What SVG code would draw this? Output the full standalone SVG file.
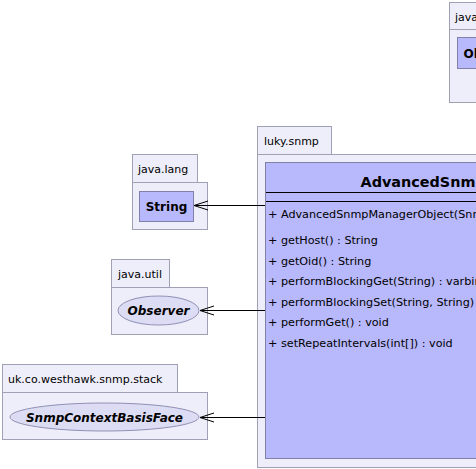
<svg xmlns="http://www.w3.org/2000/svg" width="476" height="469" viewBox="0 0 476 469">
<defs>
<marker id="open" markerWidth="16" markerHeight="12" refX="15" refY="6" orient="auto" markerUnits="userSpaceOnUse">
<path d="M1,1.5 L15,6 L1,10.5" fill="none" stroke="#000" stroke-width="1"/>
</marker>
</defs>
<style>
.pkg{fill:#eeeefa;stroke:#a0a0b4;stroke-width:1}
.cls{fill:#b8b8fc;stroke:#8080a8;stroke-width:1}
.ifc{fill:#dcdcf4;stroke:#9090b4;stroke-width:1}
.plab{font-family:"DejaVu Sans",sans-serif;font-size:11px;fill:#000}
.cname{font-family:"DejaVu Sans",sans-serif;font-size:12px;font-weight:bold;fill:#000}
.iname{font-family:"DejaVu Sans",sans-serif;font-size:12px;font-weight:bold;font-style:italic;fill:#000}
.big{font-family:"DejaVu Sans",sans-serif;font-size:14.4px;font-weight:bold;fill:#000}
.mem{font-family:"DejaVu Sans",sans-serif;font-size:11.2px;fill:#000}
.sep{stroke:#000;stroke-width:1}
.conn{stroke:#000;stroke-width:1;fill:none}
</style>
<g id="pkg-java-lang-top">
<rect class="pkg" x="449.5" y="2.5" width="40" height="27"/>
<rect class="pkg" x="449.5" y="29.5" width="60" height="73"/>
<text class="plab" x="455" y="21">java.lang</text>
<rect class="cls" x="457.5" y="37.5" width="50" height="31"/>
<text class="cname" x="463.5" y="58">Object</text>
</g>
<g id="pkg-java-lang">
<rect class="pkg" x="132.5" y="154.5" width="65" height="28"/>
<rect class="pkg" x="132.5" y="182.5" width="75" height="47"/>
<text class="plab" x="138" y="173">java.lang</text>
</g>
<g id="String">
<rect class="cls" x="139.5" y="191.5" width="54" height="30"/>
<text class="cname" x="166.5" y="210.5" text-anchor="middle">String</text>
</g>
<g id="pkg-java-util">
<rect class="pkg" x="111.5" y="259.5" width="58" height="28"/>
<rect class="pkg" x="111.5" y="287.5" width="96" height="47"/>
<text class="plab" x="118" y="278">java.util</text>
</g>
<g id="Observer">
<ellipse class="ifc" cx="158.5" cy="310.5" rx="40.5" ry="14.5"/>
<text class="iname" x="158.5" y="315" text-anchor="middle">Observer</text>
</g>
<g id="pkg-uk-co-westhawk-snmp-stack">
<rect class="pkg" x="2.5" y="364.5" width="175" height="28"/>
<rect class="pkg" x="2.5" y="392.5" width="205" height="47"/>
<text class="plab" x="8" y="383">uk.co.westhawk.snmp.stack</text>
</g>
<g id="SnmpContextBasisFace">
<ellipse class="ifc" cx="104.5" cy="417" rx="94.5" ry="14"/>
<text class="iname" x="104.5" y="421.5" text-anchor="middle">SnmpContextBasisFace</text>
</g>
<g id="pkg-luky-snmp">
<rect class="pkg" x="257.5" y="126.5" width="74" height="28"/>
<rect class="pkg" x="257.5" y="154.5" width="240" height="313"/>
<text class="plab" x="264" y="145">luky.snmp</text>
</g>
<g id="AdvancedSnmpManagerObject">
<rect class="cls" x="265.5" y="162.5" width="240" height="296"/>
<text class="big" x="360.5" y="187">AdvancedSnmpManagerObject</text>
<line class="sep" x1="266" y1="192.5" x2="476" y2="192.5"/>
<line class="sep" x1="266" y1="201.5" x2="476" y2="201.5"/>
<text class="mem" x="268" y="218">+ AdvancedSnmpManagerObject(SnmpContextBasisFace, String)</text>
<text class="mem" x="268" y="244">+ getHost() : String</text>
<text class="mem" x="268" y="264.6">+ getOid() : String</text>
<text class="mem" x="268" y="285.2">+ performBlockingGet(String) : varbind</text>
<text class="mem" x="268" y="305.8">+ performBlockingSet(String, String) : varbind</text>
<text class="mem" x="268" y="326.4">+ performGet() : void</text>
<text class="mem" x="268" y="347">+ setRepeatIntervals(int[]) : void</text>
</g>
<g id="connectors">
<line class="conn" x1="265" y1="205.5" x2="194" y2="205.5" marker-end="url(#open)"/>
<line class="conn" x1="265" y1="310.5" x2="200" y2="310.5" marker-end="url(#open)"/>
<line class="conn" x1="265" y1="417.5" x2="200" y2="417.5" marker-end="url(#open)"/>
</g>
</svg>
